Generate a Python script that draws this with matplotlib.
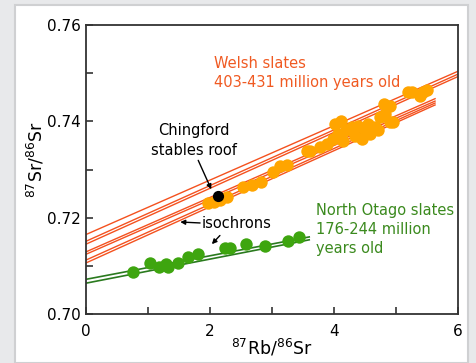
import numpy as np
import matplotlib.pyplot as plt
from matplotlib.patches import Rectangle

# Welsh slates isochrons: intercept at x=0, end x, end y
welsh_y0 = [0.7165, 0.7151, 0.7145, 0.7129, 0.7124, 0.7112, 0.7106]
welsh_x1 = [6.0, 6.0, 6.0, 5.63, 5.63, 5.63, 5.63]
welsh_y1 = [0.7504, 0.7498, 0.7493, 0.7447, 0.7442, 0.7438, 0.7434]

# North Otago isochrons
otago_y0 = [0.7072, 0.7064]
otago_x1 = [3.6, 3.6]
otago_y1 = [0.7160, 0.7154]

welsh_x = [1.97, 2.16, 2.27, 2.06, 2.54, 2.67, 2.83, 3.02, 3.13, 3.24,
           3.56, 3.61, 3.77, 3.88, 3.99, 4.02, 4.12, 4.07, 4.20, 4.15,
           4.29, 4.34, 4.39, 4.45, 4.50, 4.55, 4.58, 4.66, 4.71, 4.74,
           4.80, 4.90, 4.82, 4.90, 4.95, 5.20, 5.25, 5.44, 5.39, 5.50]
welsh_y = [0.7230, 0.7236, 0.7243, 0.7233, 0.7263, 0.7267, 0.7274, 0.7294, 0.7308, 0.7310,
           0.7339, 0.7339, 0.7346, 0.7353, 0.7364, 0.7395, 0.7401, 0.7374, 0.7381, 0.7360,
           0.7388, 0.7370, 0.7391, 0.7364, 0.7381, 0.7395, 0.7374, 0.7388, 0.7381, 0.7408,
           0.7436, 0.7432, 0.7415, 0.7398, 0.7398, 0.7460, 0.7460, 0.7460, 0.7453, 0.7465]

otago_x = [0.76, 1.03, 1.17, 1.29, 1.33, 1.49, 1.65, 1.81, 2.24, 2.32, 2.58, 2.88, 3.25, 3.44]
otago_y = [0.7088, 0.7105, 0.7097, 0.7103, 0.7097, 0.7106, 0.7119, 0.7124, 0.7136, 0.7138,
           0.7146, 0.7141, 0.7152, 0.7159]

chingford_x = [2.13]
chingford_y = [0.7246]

red = '#f4511e'
dgreen = '#2a7a1e'

fig = plt.figure(figsize=(4.76, 3.63), dpi=100, facecolor='#e8e9eb')
W, H = 476, 363
# white card behind the chart
fig.patches.append(Rectangle((15 / W, 0), (468 - 15) / W, (363 - 5) / H,
                             transform=fig.transFigure, facecolor='white',
                             edgecolor='#cfd0d2', lw=1.5, zorder=-1))
ax = fig.add_axes([86 / W, 1 - 314 / H, (458 - 86) / W, (314 - 25) / H])
ax.set_facecolor('none')

for y0, x1, y1 in zip(welsh_y0, welsh_x1, welsh_y1):
    ax.plot([0, x1], [y0, y1], color=red, lw=1.0, zorder=2)
for y0, x1, y1 in zip(otago_y0, otago_x1, otago_y1):
    ax.plot([0, x1], [y0, y1], color=dgreen, lw=1.2, zorder=2)

ax.scatter(welsh_x, welsh_y, s=80, color='#ffa500', zorder=3, linewidths=0)
ax.scatter(otago_x, otago_y, s=80, color='#3ea50f', zorder=3, linewidths=0)
ax.scatter(chingford_x, chingford_y, s=65, color='black', zorder=4, linewidths=0)

ax.set_xlim(0, 6)
ax.set_ylim(0.70, 0.76)
ax.set_xticks(range(7))
ax.set_xticklabels(['0', '', '2', '', '4', '', '6'])
ax.set_yticks([0.70, 0.71, 0.72, 0.73, 0.74, 0.75, 0.76])
ax.set_yticklabels(['0.70', '', '0.72', '', '0.74', '', '0.76'])
ax.tick_params(direction='in', length=5, width=1.2, colors='#333333',
               labelcolor='black', labelsize=11)
ax.tick_params(axis='x', pad=7)
ax.tick_params(axis='y', pad=4)
for sp in ax.spines.values():
    sp.set_color('#333333')
    sp.set_linewidth(1.3)

ax.set_xlabel('$^{87}$Rb/$^{86}$Sr', fontsize=12.5)
ax.set_ylabel('$^{87}$Sr/$^{86}$Sr', fontsize=12.5)
ax.xaxis.set_label_coords(0.5, -0.08)
ax.yaxis.set_label_coords(-0.105, 0.535)

ax.text(2.06, 0.7501, 'Welsh slates\n403-431 million years old', color='#f05a22',
        fontsize=10.5, va='center', ha='left', linespacing=1.35)
ax.text(3.71, 0.7175, 'North Otago slates\n176-244 million\nyears old', color='#3b8a1e',
        fontsize=10.5, va='center', ha='left', linespacing=1.35)
ax.text(1.74, 0.7360, 'Chingford\nstables roof', color='black',
        fontsize=10.5, va='center', ha='center', linespacing=1.35)
ax.text(1.87, 0.7188, 'isochrons', color='black', fontsize=10.5, va='center', ha='left')

arrow = dict(arrowstyle='-|>', color='black', lw=1, mutation_scale=7, shrinkA=0, shrinkB=0)
ax.annotate('', xy=(2.02, 0.7259), xytext=(1.81, 0.7319), arrowprops=arrow)
ax.annotate('', xy=(1.52, 0.7191), xytext=(1.84, 0.7189), arrowprops=arrow)
ax.annotate('', xy=(2.03, 0.7145), xytext=(2.16, 0.7163), arrowprops=arrow)

fig.savefig('out.png', dpi=100, facecolor=fig.get_facecolor())
